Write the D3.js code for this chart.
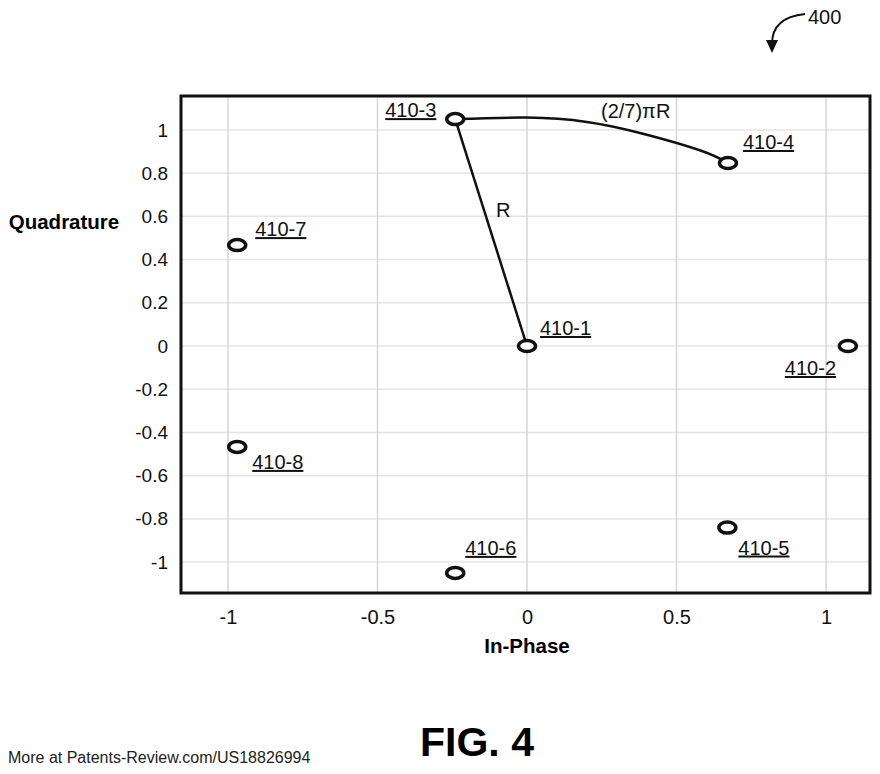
<!DOCTYPE html>
<html>
<head>
<meta charset="utf-8">
<script src="https://cdn.jsdelivr.net/npm/d3@7"></script>
<style>
  body { margin: 0; background: #fff; }
  text { font-family: Arial, "Liberation Sans", sans-serif; }
</style>
</head>
<body>
<svg width="880" height="774"></svg>
<script>
// constellation points
var pointNames = ["410-1", "410-2", "410-3", "410-4", "410-5", "410-6", "410-7", "410-8"];
var pointI = [0, 1.073, -0.24, 0.672, 0.67, -0.24, -0.969, -0.969];
var pointQ = [0, 0, 1.05, 0.847, -0.84, -1.05, 0.467, -0.467];

var xTicks = [-1, -0.5, 0, 0.5, 1];
var yTicks = [-1, -0.8, -0.6, -0.4, -0.2, 0, 0.2, 0.4, 0.6, 0.8, 1];

// arc between 410-3 and 410-4
var arcI = [-0.24, 0, 0.2, 0.378, 0.58, 0.672];
var arcQ = [1.05, 1.057, 1.037, 0.986, 0.905, 0.847];

var svg = d3.select("svg"),
    plotLeft = 181, plotRight = 870, plotTop = 96, plotBottom = 593;

var xScale = d3.scaleLinear().domain([-1.157, 1.147]).range([plotLeft, plotRight]),
    yScale = d3.scaleLinear().domain([-1.143, 1.157]).range([plotBottom, plotTop]);

var g = svg.append("g");

// gridlines
g.selectAll(".hgrid")
 .data(yTicks)
 .enter().append("line")
 .attr("x1", plotLeft).attr("x2", plotRight)
 .attr("y1", function(d) { return yScale(d); })
 .attr("y2", function(d) { return yScale(d); })
 .attr("stroke", "#e4e4e4")
 .attr("stroke-width", 1.5);

g.selectAll(".vgrid")
 .data(xTicks)
 .enter().append("line")
 .attr("y1", plotTop).attr("y2", plotBottom)
 .attr("x1", function(d) { return xScale(d); })
 .attr("x2", function(d) { return xScale(d); })
 .attr("stroke", "#d6d6d6")
 .attr("stroke-width", 1.5);

// axes (labels only, frame drawn separately)
g.append("g")
 .attr("transform", "translate(0," + plotBottom + ")")
 .call(d3.axisBottom(xScale).tickValues(xTicks).tickSize(0).tickPadding(17)
   .tickFormat(function(d) { return d; }))
 .call(function(a) { a.select(".domain").remove(); })
 .selectAll("text")
 .attr("font-size", "20px")
 .attr("fill", "#111")
 .style("font-family", "Arial, 'Liberation Sans', sans-serif");

g.append("g")
 .attr("transform", "translate(" + plotLeft + ",0)")
 .call(d3.axisLeft(yScale).tickValues(yTicks).tickSize(0).tickPadding(13)
   .tickFormat(function(d) { return d; }))
 .call(function(a) { a.select(".domain").remove(); })
 .selectAll("text")
 .attr("font-size", "19px")
 .attr("fill", "#111")
 .style("font-family", "Arial, 'Liberation Sans', sans-serif");

// frame
g.append("rect")
 .attr("x", plotLeft).attr("y", plotTop)
 .attr("width", plotRight - plotLeft).attr("height", plotBottom - plotTop)
 .attr("fill", "none")
 .attr("stroke", "#111")
 .attr("stroke-width", 3);

// axis titles
svg.append("text")
   .attr("x", 64).attr("y", 229)
   .attr("text-anchor", "middle")
   .attr("font-size", "20.5px")
   .attr("font-weight", "bold")
   .text("Quadrature");

svg.append("text")
   .attr("x", 527).attr("y", 653)
   .attr("text-anchor", "middle")
   .attr("font-size", "20.5px")
   .attr("font-weight", "bold")
   .text("In-Phase");

// R line from 410-3 to origin
g.append("line")
 .attr("x1", xScale(pointI[2])).attr("y1", yScale(pointQ[2]))
 .attr("x2", xScale(pointI[0])).attr("y2", yScale(pointQ[0]))
 .attr("stroke", "#111")
 .attr("stroke-width", 2.5);

// arc
var arcData = arcI.map(function(d, i) { return [d, arcQ[i]]; });
g.append("path")
 .datum(arcData)
 .attr("d", d3.line()
   .x(function(d) { return xScale(d[0]); })
   .y(function(d) { return yScale(d[1]); })
   .curve(d3.curveNatural))
 .attr("fill", "none")
 .attr("stroke", "#111")
 .attr("stroke-width", 2.5);

// markers
var pts = pointNames.map(function(n, i) { return { name: n, i: pointI[i], q: pointQ[i] }; });
g.selectAll(".pt")
 .data(pts)
 .enter().append("ellipse")
 .attr("class", "pt")
 .attr("cx", function(d) { return xScale(d.i); })
 .attr("cy", function(d) { return yScale(d.q); })
 .attr("rx", 8.5)
 .attr("ry", 5.5)
 .attr("fill", "#fff")
 .attr("stroke", "#111")
 .attr("stroke-width", 3.5);

// point labels (offsets from marker)
var labelDx = [13, -63, -70, 15, 11, 10, 18, 15];
var labelDy = [-11, 29, -2, -14, 27, -18, -9, 22];
g.selectAll(".lbl")
 .data(pts)
 .enter().append("text")
 .attr("class", "lbl")
 .attr("x", function(d, i) { return xScale(d.i) + labelDx[i]; })
 .attr("y", function(d, i) { return yScale(d.q) + labelDy[i]; })
 .attr("font-size", "20px")
 .attr("fill", "#111")
 .attr("text-decoration", "underline")
 .text(function(d) { return d.name; });

svg.append("text")
   .attr("x", 601).attr("y", 118)
   .attr("font-size", "20px")
   .attr("fill", "#111")
   .text("(2/7)\u03c0R");

svg.append("text")
   .attr("x", 496).attr("y", 217)
   .attr("font-size", "20px")
   .attr("fill", "#111")
   .text("R");

// reference numeral 400 with arrow
svg.append("text")
   .attr("x", 808).attr("y", 24)
   .attr("font-size", "20px")
   .attr("fill", "#111")
   .text("400");

svg.append("path")
   .attr("d", "M805,14 C785,16 772,24 772,44")
   .attr("fill", "none")
   .attr("stroke", "#111")
   .attr("stroke-width", 2);
svg.append("path")
   .attr("d", "M766,40 L778,40 L772,53 Z")
   .attr("fill", "#111");

svg.append("text")
   .attr("x", 477).attr("y", 756)
   .attr("text-anchor", "middle")
   .attr("font-size", "41px")
   .attr("font-weight", "bold")
   .text("FIG. 4");

svg.append("text")
   .attr("x", 8).attr("y", 763)
   .attr("font-size", "16px")
   .attr("fill", "#222")
   .text("More at Patents-Review.com/US18826994");
</script>
</body>
</html>
